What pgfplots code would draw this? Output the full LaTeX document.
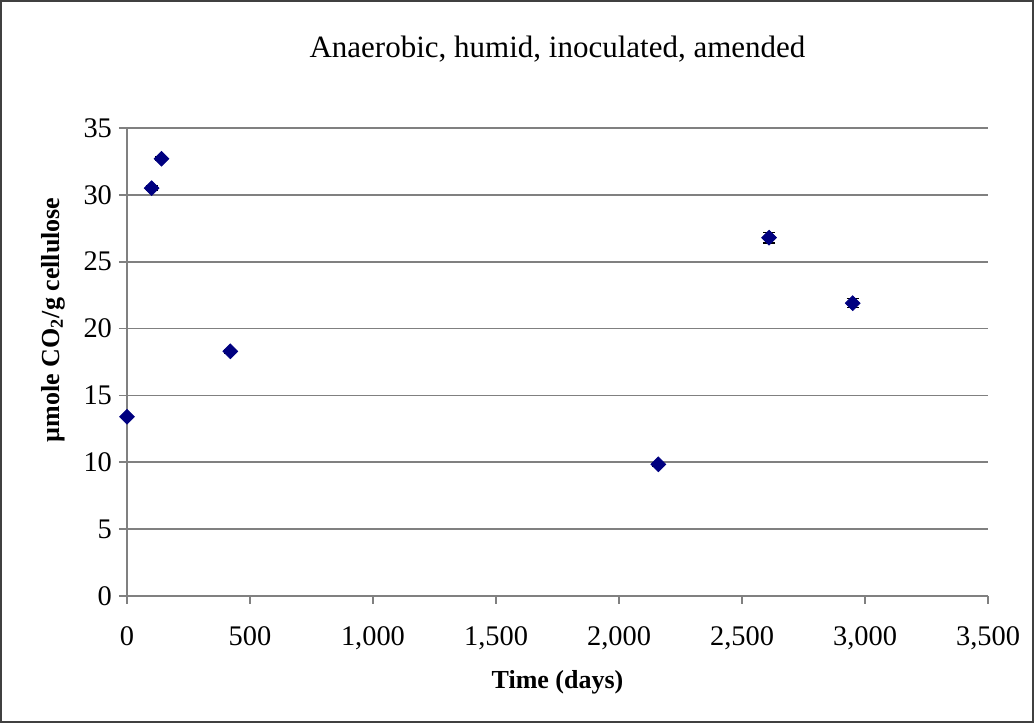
\documentclass[border=0pt]{standalone}
\usepackage{fontspec}
\setmainfont{Liberation Serif}
\usepackage{pgfplots}
\pgfplotsset{compat=1.18}
\usetikzlibrary{calc}
\definecolor{navyblue}{HTML}{000080}
\definecolor{gridgray}{HTML}{808080}

\begin{document}
\begin{tikzpicture}
\begin{axis}[
  name=ax,
  scale only axis,
  width=430.5pt, height=234pt,
  xmin=0, xmax=3500,
  ymin=0, ymax=35,
  xtick={0,500,...,3500},
  ytick={0,5,...,35},
  axis x line*=bottom,
  axis y line*=left,
  axis line style={gridgray, line width=0.8pt},
  tick style={gridgray, line width=0.8pt},
  tick align=outside,
  major tick length=4pt,
  ymajorgrids,
  major grid style={gridgray, line width=0.8pt},
  /pgf/number format/assume math mode=true,
  /pgf/number format/1000 sep={,},
  ticklabel style={font=\fontsize{14.2}{16}\selectfont},
  xticklabel style={yshift=-8pt},
  yticklabel style={xshift=0pt},
  title={Anaerobic, humid, inoculated, amended},
  title style={font=\fontsize{15.5}{18}\selectfont, at={(0.5,1)}, anchor=center, yshift=33.5pt},
  xlabel={Time (days)},
  ylabel={\textmu mole CO\textsubscript{2}/g cellulose},
  label style={font=\bfseries\fontsize{13}{15}\selectfont},
  xlabel style={at={(0.5,0)}, anchor=center, yshift=-43pt},
  ylabel style={at={(0,0.59)}, anchor=center, yshift=37pt},
  clip=false,
]
\addplot[
  only marks,
  mark=square*,
  mark size=2.6pt,
  mark options={rotate=45, fill=navyblue, draw=navyblue},
  error bars/.cd,
    y dir=both, y explicit,
    error bar style={black, line width=0.7pt},
    error mark options={black, line width=0.7pt, mark size=3pt, rotate=90},
] coordinates {
  (0,13.4)    +- (0,0.12)
  (100,30.5)  +- (0,0.15)
  (140,32.7)  +- (0,0.12)
  (420,18.3)  +- (0,0.15)
  (2160,9.85) +- (0,0.12)
  (2610,26.8) +- (0,0.4)
  (2950,21.9) +- (0,0.34)
};
\end{axis}
\draw[black!75, line width=1pt] ($(ax.south west)+(-63pt,-63pt)$) rectangle ($(ax.north east)+(22.5pt,63.5pt)$);
\end{tikzpicture}
\end{document}
